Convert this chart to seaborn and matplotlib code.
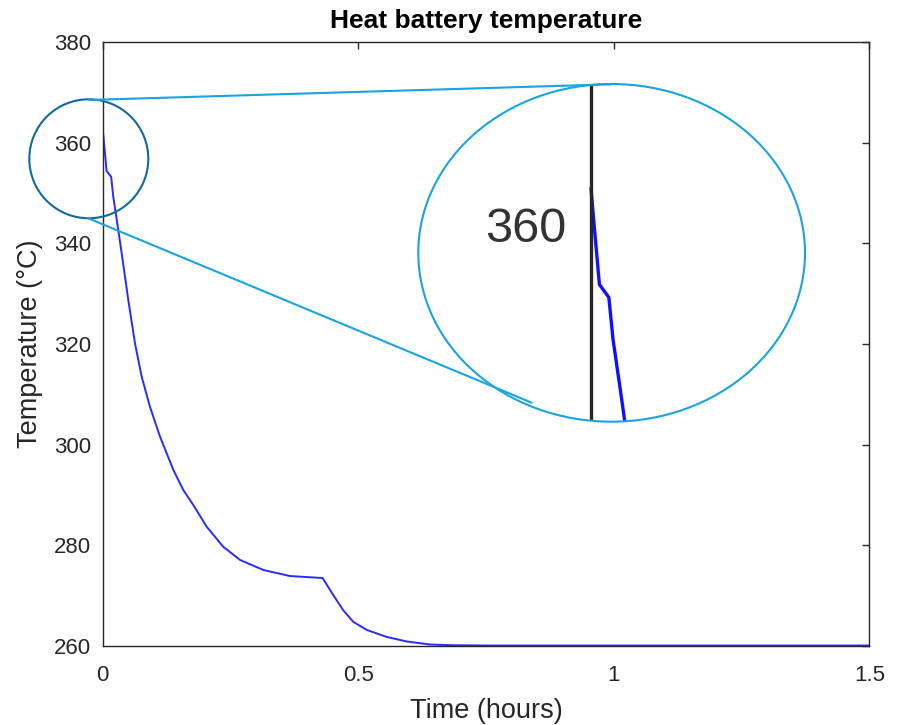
import matplotlib
matplotlib.use("Agg")
import matplotlib.pyplot as plt
import seaborn as sns
import pandas as pd
from matplotlib.patches import Ellipse
from matplotlib.lines import Line2D

# ---- data ----
time_h = [0.0, 0.003, 0.008, 0.017, 0.021, 0.028, 0.038, 0.0505, 0.0636, 0.0767,
          0.0929, 0.1125, 0.1385, 0.158, 0.1777, 0.2038, 0.2364, 0.269, 0.3146,
          0.3668, 0.4307, 0.4515, 0.471, 0.4906, 0.5168, 0.556, 0.595, 0.6406,
          0.686, 0.750, 1.000, 1.500]
temp_c = [363.3, 359.9, 354.4, 353.2, 349.3, 344.6, 337.7, 328.7, 320.1, 313.5,
          307.5, 301.6, 295.0, 291.0, 288.0, 283.7, 279.7, 277.1, 275.1,
          273.9, 273.5, 270.1, 267.1, 264.8, 263.2, 261.8, 260.9, 260.3,
          260.15, 260.1, 260.1, 260.1]
x_ticks = [0, 0.5, 1, 1.5]
x_tick_labels = ["0", "0.5", "1", "1.5"]
y_ticks = [260, 280, 300, 320, 340, 360, 380]

df = pd.DataFrame({"Time (hours)": time_h, "Temperature": temp_c})

sns.set_theme(style="white")
plt.rcParams["font.family"] = ["Liberation Sans", "DejaVu Sans"]

W, H = 901, 725
fig = plt.figure(figsize=(W / 100, H / 100), dpi=100)
fig.patch.set_facecolor("white")

def fx(px):
    return px / W

def fy(py):
    return 1 - py / H

axc = "#262626"
ax = fig.add_axes([fx(102.5), fy(646), (869.3 - 102.5) / W, (646 - 42) / H])
sns.lineplot(data=df, x="Time (hours)", y="Temperature", ax=ax,
             color="#2a2aff", lw=1.4, sort=False, estimator=None)
ax.set_xlim(0, 1.5)
ax.set_ylim(260, 380)
ax.set_xticks(x_ticks)
ax.set_xticklabels(x_tick_labels)
ax.set_yticks(y_ticks)
for s in ax.spines.values():
    s.set_visible(True)
    s.set_color(axc)
    s.set_linewidth(1.0)
ax.tick_params(direction="in", length=5, width=1.0, colors=axc,
               top=True, right=True, labelsize=16)
ax.tick_params(axis="x", pad=14)
ax.tick_params(axis="y", pad=8)
ax.set_xlabel("Time (hours)", fontsize=19.5, color=axc, labelpad=8)
ax.set_ylabel("Temperature (\u00b0C)", fontsize=19.5, color=axc, labelpad=8)
ax.set_title("Heat battery temperature", fontsize=19, fontweight="bold",
             color="black", pad=10)
ax.grid(False)

# small source circle (data coords, around the start of the curve)
dark_teal = "#12699a"
light_blue = "#19a3e0"
small = Ellipse((-0.0268, 356.8), width=2 * 0.1164, height=2 * 11.82,
                facecolor="none", edgecolor=dark_teal, lw=1.5, clip_on=False,
                zorder=6)
ax.add_patch(small)

# magnified ellipse inset
ex0, ex1, ey0, ey1 = 418.3, 805.0, 84.0, 421.7
ax_in = fig.add_axes([fx(ex0), fy(ey1), (ex1 - ex0) / W, (ey1 - ey0) / H])
ax_in.set_zorder(1)
ax_in.patch.set_visible(False)
fill = Ellipse((0.5, 0.5), 1, 1, transform=ax_in.transAxes,
               facecolor="white", edgecolor="none", zorder=0, clip_on=False)
ax_in.add_patch(fill)
sns.lineplot(data=df, x="Time (hours)", y="Temperature", ax=ax_in,
             color="#1010ff", lw=2.4, sort=False, estimator=None)
ax_in.set_xlim((ex0 - 591) / 1050, (ex1 - 591) / 1050)
ax_in.set_ylim(360 - (ey1 - 224) / 10.8, 360 + (224 - ey0) / 10.8)
for ln in ax_in.lines:
    ln.set_clip_path(fill)
for k in ["top", "right", "bottom"]:
    ax_in.spines[k].set_visible(False)
ax_in.spines["left"].set_position(("data", 0))
ax_in.spines["left"].set_color(axc)
ax_in.spines["left"].set_linewidth(2.4)
ax_in.spines["left"].set_clip_path(fill)
ax_in.xaxis.set_visible(False)
ax_in.set_xlabel("")
ax_in.set_ylabel("")
ax_in.set_yticks([360])
ax_in.tick_params(axis="y", direction="in", length=11.5, width=1.8,
                  colors=axc, labelsize=35, pad=18)
for lab in ax_in.get_yticklabels():
    lab.set_color("#333333")
edge = Ellipse((0.5, 0.5), 1, 1, transform=ax_in.transAxes,
               facecolor="none", edgecolor=light_blue, lw=1.5, zorder=5,
               clip_on=False)
ax_in.add_patch(edge)

# connector lines
fig.add_artist(Line2D([fx(88.3), fx(611.7)], [fy(100.0), fy(84.3)],
                      transform=fig.transFigure, color=light_blue, lw=1.5,
                      zorder=5))
fig.add_artist(Line2D([fx(88.3), fx(531.7)], [fy(218.3), fy(402.7)],
                      transform=fig.transFigure, color=light_blue, lw=1.5,
                      zorder=5))

fig.savefig("out.png", dpi=100, facecolor="white")
